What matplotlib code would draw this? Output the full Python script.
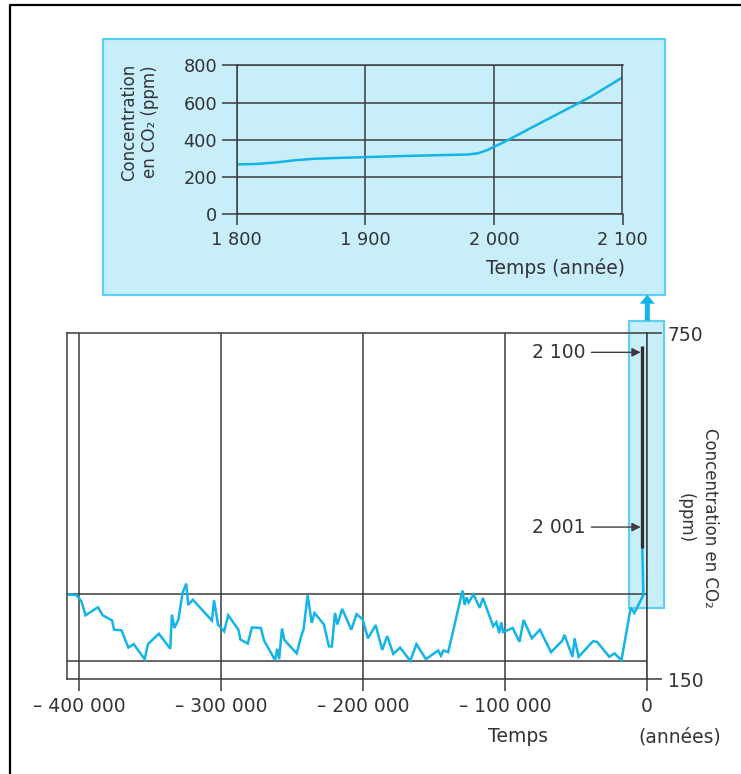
import matplotlib

matplotlib.use("Agg")
import matplotlib.pyplot as plt
from matplotlib.patches import FancyArrow, Rectangle

W, H = 741, 774  # pixels, dpi 100

# inset: CO2 since 1800 with projection to 2100
inset_years = [1800, 1815, 1830, 1845, 1860, 1880, 1900, 1930, 1960, 1980, 1988, 1995,
               2000, 2010, 2025, 2050, 2075, 2100]
inset_ppm = [268, 270, 278, 290, 298, 303, 307, 313, 318, 321, 328, 345,
             362, 395, 450, 540, 630, 735]
inset_xticks = [1800, 1900, 2000, 2100]
inset_yticks = [0, 200, 400, 600, 800]

# main: ice-core record, years before present
core_years = [
    -408000, -402000, -398600, -395700, -387000, -383600, -377000, -375600, -370400,
    -365500, -361800, -354000, -351700, -344000, -336000, -334800, -333000, -330200,
    -327300, -324700, -323300, -320100, -306600, -305100, -302300, -298000, -295100,
    -287900, -286500, -281300, -278400, -272100, -269800, -262000, -260600, -259200,
    -257200, -255500, -246800, -243400, -242000, -239100, -236200, -234200, -227600,
    -224100, -222000, -219800, -218100, -214700, -208300, -204600, -200300, -196600,
    -191100, -186500, -183000, -178700, -173900, -166700, -162400, -155700, -147100,
    -145100, -143400, -140000, -129900, -128400, -127000, -125600, -122100, -117800,
    -115500, -108300, -106000, -104000, -102600, -101200, -94500, -89700, -86800,
    -81000, -75300, -67500, -59500, -58000, -52300, -50900, -48000, -37900, -35000,
    -26400, -22700, -17800, -11300, -8700, -2400, -3100,
]
core_ppm = [
    297, 296, 285, 261, 275, 261, 252, 236, 235,
    205, 211, 185, 211, 229, 203, 262, 239, 254,
    300, 316, 279, 288, 252, 287, 245, 233, 261,
    236, 219, 212, 240, 239, 217, 183, 203, 185,
    238, 218, 195, 227, 236, 296, 248, 265, 245,
    207, 207, 265, 245, 272, 236, 263, 254, 221,
    244, 201, 225, 194, 205, 182, 211, 185, 200,
    191, 200, 197, 304, 279, 292, 283, 297, 274,
    291, 242, 249, 230, 249, 232, 239, 215, 253,
    221, 236, 197, 217, 227, 189, 221, 189, 216, 215,
    189, 195, 183, 274, 265, 296, 378,
]
recent_years = [-3100, -3100]
recent_ppm = [378, 728]
main_xticks = [-400000, -300000, -200000, -100000, 0]
main_yticks = [150, 750]
ref_levels = [298, 182]
mark_labels = ["2 100", "2 001"]
mark_ppm = [717, 414]

INK = "#3c3c3c"
TXT = "#333338"
CYAN = "#14b4e8"
FILL = "#c8eefa"
EDGE = "#5fd0f2"


def rect(x0, y0, x1, y1):
    return [x0 / W, 1 - y1 / H, (x1 - x0) / W, (y1 - y0) / H]


def spaced(v):
    s = f"{abs(v):,}".replace(",", " ")
    return ("– " + s) if v < 0 else s


fig = plt.figure(figsize=(W / 100, H / 100), dpi=100)
fig.patch.set_facecolor("white")

# overlay in pixel coordinates for frame, boxes, arrow and free labels
ov = fig.add_axes([0, 0, 1, 1], zorder=0)
ov.set_xlim(0, W)
ov.set_ylim(H, 0)
ov.axis("off")
ov.plot([10, 10, W], [H, 5, 5], color="black", lw=1.6, solid_capstyle="butt")
ov.add_patch(Rectangle((103, 39), 562, 256, facecolor=FILL, edgecolor=EDGE, lw=1.6))
ov.add_patch(Rectangle((628.5, 320.7), 35.5, 287.3, facecolor=FILL, edgecolor=EDGE, lw=1.6))
ov.add_patch(FancyArrow(647.3, 320.7, 0, -26, width=5, head_width=15, head_length=9,
                        length_includes_head=True, color=CYAN, lw=0))
ov.text(518, 737, "Temps", ha="center", va="center", fontsize=13.5, color=TXT)
ov.text(680, 737, "(années)", ha="center", va="center", fontsize=13.5, color=TXT)
ov.text(698, 518, "Concentration en CO₂\n(ppm)", rotation=270, ha="center", va="center",
        fontsize=12, color=TXT, linespacing=1.45, multialignment="center")
ov.text(625, 268, "Temps (année)", ha="right", va="center", fontsize=13.5, color=TXT)
ov.text(140, 122, "Concentration\nen CO₂ (ppm)", rotation=90, ha="center", va="center",
        fontsize=12, color=TXT, linespacing=1.2)

# main chart
ax = fig.add_axes(rect(66.7, 333.3, 646.7, 679.3), zorder=1)
ax.set_facecolor("none")
ax.set_xlim(-409000, 0)
ax.set_ylim(150, 750)
for s in ax.spines.values():
    s.set_color(INK)
    s.set_linewidth(1.1)
ax.set_xticks(main_xticks)
ax.set_xticklabels([spaced(v) for v in main_xticks])
ax.tick_params(axis="x", direction="out", length=8.5, width=1.1, color=INK, pad=4,
               labelsize=13.5, labelcolor=TXT)
ax.grid(axis="x", color=INK, lw=1.1)
ax.yaxis.tick_right()
ax.set_yticks(main_yticks)
ax.set_yticklabels([str(v) for v in main_yticks])
ax.tick_params(axis="y", direction="out", length=11, width=1.1, color=INK, pad=4,
               labelsize=13.5, labelcolor=TXT)
for lvl in ref_levels:
    ax.axhline(lvl, color=INK, lw=1.1)
ax.plot(core_years, core_ppm, color=CYAN, lw=1.8, solid_joinstyle="miter")
ax.plot(recent_years, recent_ppm, color="#2e2e2e", lw=2.4, solid_capstyle="butt")
for lab, val in zip(mark_labels, mark_ppm):
    ax.annotate("", xy=(-4200, val), xytext=(-39000, val),
                arrowprops=dict(arrowstyle="-|>", color=INK, lw=1.0, mutation_scale=13,
                                shrinkA=0, shrinkB=0))
    ax.text(-43000, val, lab, ha="right", va="center", fontsize=13.5, color=TXT)

# inset chart
ins = fig.add_axes(rect(236.7, 65.3, 622.5, 214.3), zorder=2)
ins.set_facecolor("none")
ins.set_xlim(1800, 2100)
ins.set_ylim(0, 800)
for s in ins.spines.values():
    s.set_color(INK)
    s.set_linewidth(1.1)
ins.set_xticks(inset_xticks)
ins.set_xticklabels([spaced(v) for v in inset_xticks])
ins.set_yticks(inset_yticks)
ins.tick_params(axis="x", direction="out", length=8, width=1.1, color=INK, pad=4,
                labelsize=12.8, labelcolor=TXT)
ins.tick_params(axis="y", direction="out", length=11, width=1.1, color=INK, pad=3,
                labelsize=12.8, labelcolor=TXT)
ins.grid(color=INK, lw=1.1)
ins.plot(inset_years, inset_ppm, color=CYAN, lw=1.8)

fig.savefig("out.png", dpi=100)
